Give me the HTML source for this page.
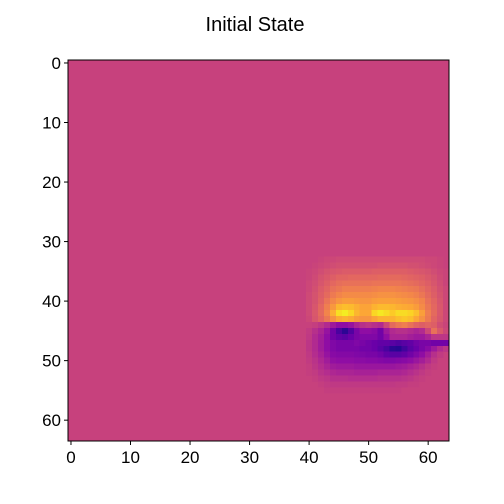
<!DOCTYPE html>
<html><head><meta charset="utf-8"><style>body{margin:0;background:#fff}svg{display:block;font-family:"Liberation Sans",sans-serif}</style></head>
<body>
<svg id="chart" width="504" height="504">
<text x="255" y="31" font-size="20" text-anchor="middle">Initial State</text>
<g id="cells" shape-rendering="crispEdges"></g>
<g id="axes"></g>
</svg>
<script>
const nRows = 64, nCols = 64;
const background = 48;
const blobRow0 = 33, blobCol0 = 40;
const blobValues = [
[48,48,49,50,50,51,51,51,51,51,51,51,51,51,51,51,51,51,51,51,50,50,49,48,48],
[48,49,50,51,52,53,53,53,53,53,53,53,54,54,54,54,54,53,53,52,51,50,49,48,48],
[49,50,52,54,55,56,57,57,57,57,57,58,58,58,58,58,58,57,56,55,54,52,50,49,48],
[49,51,54,56,58,60,60,61,61,61,61,61,62,62,62,62,61,60,59,58,56,54,51,49,48],
[50,52,55,58,61,63,64,64,64,64,64,65,65,65,65,65,64,63,62,60,58,55,52,49,48],
[50,53,57,60,64,66,68,68,68,68,68,69,70,70,70,69,68,67,66,63,60,57,53,50,48],
[51,54,58,62,67,70,72,72,72,72,72,73,74,74,74,73,72,71,69,66,62,58,54,50,48],
[51,54,59,65,71,75,77,77,76,75,75,77,78,78,78,77,76,75,73,70,64,60,55,50,48],
[51,55,61,68,76,84,86,85,82,79,79,83,85,85,84,82,81,80,77,72,66,61,56,50,48],
[51,56,62,70,82,94,97,92,84,80,80,92,96,93,89,93,93,91,86,78,68,62,56,50,48],
[50,55,60,66,74,81,83,81,77,75,75,79,83,83,83,86,88,86,80,74,67,60,55,50,48],
[48,47,44,40,34,30,30,32,38,42,44,42,40,50,62,66,68,64,60,58,60,58,52,49,48],
[46,42,38,32,22,12,6,14,24,30,30,28,22,34,40,42,42,40,38,40,50,64,56,50,48],
[45,40,36,30,22,18,16,20,24,26,26,26,22,30,38,38,38,36,34,34,38,44,44,44,44],
[44,40,35,30,26,24,24,24,26,24,22,20,18,18,16,14,16,18,22,24,24,22,22,22,22],
[44,40,35,30,26,24,24,24,24,22,22,20,16,12,6,5,10,16,20,24,28,34,40,44,48],
[45,41,37,32,28,27,27,27,26,25,24,24,22,18,16,16,18,22,26,30,36,42,46,48,48],
[46,43,39,35,31,30,30,30,29,29,28,28,27,26,26,27,28,30,33,36,40,45,48,48,48],
[47,44,41,38,35,34,34,34,33,33,33,33,33,33,33,34,35,37,39,42,45,47,48,48,48],
[47,46,43,41,39,38,38,38,37,37,37,37,38,38,38,38,39,41,43,45,47,48,48,48,48],
[48,47,45,44,42,42,42,41,41,41,41,41,42,42,42,42,43,44,46,47,48,48,48,48,48],
[48,48,47,46,45,45,45,45,45,45,45,45,45,45,45,46,46,47,47,48,48,48,48,48,48],
[48,48,48,47,47,47,47,47,47,47,47,47,47,47,47,47,48,48,48,48,48,48,48,48,48]
];
const xTicks = [0,10,20,30,40,50,60];
const yTicks = [0,10,20,30,40,50,60];
const plasma = ["#0d0887","#41049d","#6a00a8","#8f0da4","#b12a90","#cc4778","#e16462","#f2844b","#fca636","#fcce25","#f0f921"];
const L=68,T=60,W=381,H=381,cw=W/nCols,ch=H/nRows;
const xs=c=>L+c*cw, ys=r=>T+r*ch;
function hex(h){return [1,3,5].map(i=>parseInt(h.substr(i,2),16));}
function color(v){v=Math.max(0,Math.min(100,v))/100;const p=v*10,i=Math.min(9,Math.floor(p)),f=p-i;const a=hex(plasma[i]),b=hex(plasma[i+1]);return "rgb("+a.map((x,k)=>Math.round(x+(b[k]-x)*f)).join(",")+")";}
const NS="http://www.w3.org/2000/svg";
const cells=document.getElementById('cells');
const bg=document.createElementNS(NS,'rect');


bg.setAttribute('x',L);bg.setAttribute('y',T);bg.setAttribute('width',W);bg.setAttribute('height',H);bg.setAttribute('fill',color(background));
cells.appendChild(bg);
blobValues.forEach((row,ri)=>row.forEach((v,ci)=>{
 const r=blobRow0+ri,c=blobCol0+ci;
 if(v===background||c>=nCols||r>=nRows) return;
 const el=document.createElementNS(NS,'rect');
 
 
 el.setAttribute('x',xs(c));el.setAttribute('y',ys(r));el.setAttribute('width',cw+0.3);el.setAttribute('height',ch+0.3);el.setAttribute('fill',color(v));
 cells.appendChild(el);
}));
const axes=document.getElementById('axes');
const frame=document.createElementNS(NS,'rect');


frame.setAttribute('x',L);frame.setAttribute('y',T);frame.setAttribute('width',W);frame.setAttribute('height',H);frame.setAttribute('fill','none');frame.setAttribute('stroke','#000');frame.setAttribute('stroke-width','1');
axes.appendChild(frame);
xTicks.forEach(t=>{
 const x=xs(t+0.5);
 const ln=document.createElementNS(NS,'line');
 
 
 ln.setAttribute('x1',x);ln.setAttribute('x2',x);ln.setAttribute('y1',T+H);ln.setAttribute('y2',T+H+4);ln.setAttribute('stroke','#000');
 axes.appendChild(ln);
 const tx=document.createElementNS(NS,'text');
 
 
 tx.setAttribute('x',x);tx.setAttribute('y',T+H+22);tx.setAttribute('font-size','17');tx.setAttribute('text-anchor','middle');tx.textContent=t;
 axes.appendChild(tx);
});
yTicks.forEach(t=>{
 const y=ys(t+0.5);
 const ln=document.createElementNS(NS,'line');
 
 
 ln.setAttribute('x1',L-4);ln.setAttribute('x2',L);ln.setAttribute('y1',y);ln.setAttribute('y2',y);ln.setAttribute('stroke','#000');
 axes.appendChild(ln);
 const tx=document.createElementNS(NS,'text');
 
 
 tx.setAttribute('x',L-7);tx.setAttribute('y',y+6);tx.setAttribute('font-size','17');tx.setAttribute('text-anchor','end');tx.textContent=t;
 axes.appendChild(tx);
});
</script>
</body></html>
